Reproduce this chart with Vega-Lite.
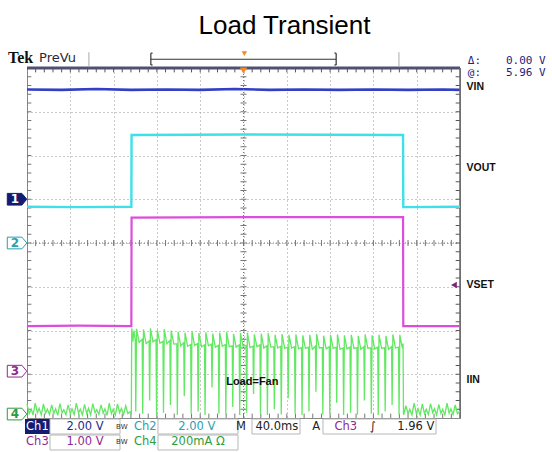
{
  "$schema": "https://vega.github.io/schema/vega-lite/v6.json",
  "width": 433,
  "height": 350,
  "autosize": {"type": "none"},
  "padding": {"left": 27, "top": 68, "right": 92, "bottom": 34},
  "background": "#ffffff",
  "title": {"text": "Load Transient", "font": "Liberation Sans", "fontSize": 26, "fontWeight": "normal", "color": "#000000", "anchor": "middle", "dx": 41, "offset": 11},
  "config": {
    "view": {"stroke": "#8a8a8a", "strokeWidth": 1},
    "axis": {"labels": false, "ticks": false, "domain": false, "grid": true, "gridColor": "#7a7a7a", "gridDash": [1, 3], "gridOpacity": 0.8}
  },
  "resolve": {"scale": {"color": "independent", "fill": "independent", "stroke": "independent"}},
  "datasets": {
    "mx": [0.2,0.4,0.6,0.8,1.0,1.2,1.4,1.6,1.8,2.0,2.2,2.4,2.6,2.8,3.0,3.2,3.4,3.6,3.8,4.0,4.2,4.4,4.6,4.8,5.0,5.2,5.4,5.6,5.8,6.0,6.2,6.4,6.6,6.8,7.0,7.2,7.4,7.6,7.8,8.0,8.2,8.4,8.6,8.8,9.0,9.2,9.4,9.6,9.8],
    "my": [-3.8,-3.6,-3.4,-3.2,-3.0,-2.8,-2.6,-2.4,-2.2,-2.0,-1.8,-1.6,-1.4,-1.2,-1.0,-0.8,-0.6,-0.4,-0.2,0.0,0.2,0.4,0.6,0.8,1.0,1.2,1.4,1.6,1.8,2.0,2.2,2.4,2.6,2.8,3.0,3.2,3.4,3.6,3.8],
    "vin": [{"x":0,"y":3.51},{"x":0.8,"y":3.5},{"x":1.6,"y":3.52},{"x":2.4,"y":3.5},{"x":3.2,"y":3.51},{"x":4.0,"y":3.5},{"x":4.8,"y":3.52},{"x":5.6,"y":3.5},{"x":6.4,"y":3.51},{"x":7.2,"y":3.5},{"x":8.0,"y":3.51},{"x":8.8,"y":3.5},{"x":9.6,"y":3.51},{"x":10,"y":3.5}],
    "vout": [{"x":0,"y":0.83},{"x":1.2,"y":0.82},{"x":2.41,"y":0.83},{"x":2.415,"y":2.47},{"x":5.0,"y":2.48},{"x":8.685,"y":2.47},{"x":8.69,"y":0.82},{"x":10,"y":0.83}],
    "vset": [{"x":0,"y":-1.9},{"x":1.2,"y":-1.89},{"x":2.41,"y":-1.9},{"x":2.415,"y":0.58},{"x":5.0,"y":0.59},{"x":8.685,"y":0.59},{"x":8.69,"y":-1.9},{"x":10,"y":-1.9}],
    "iin": [
      {"x":0.00,"y":-3.68},{"x":0.05,"y":-3.90},{"x":0.10,"y":-3.80},{"x":0.14,"y":-3.93},{"x":0.19,"y":-3.66},{"x":0.24,"y":-3.88},{"x":0.28,"y":-3.78},{"x":0.33,"y":-3.93},{"x":0.38,"y":-3.68},{"x":0.43,"y":-3.89},{"x":0.47,"y":-3.80},{"x":0.52,"y":-3.92},{"x":0.57,"y":-3.70},{"x":0.62,"y":-3.90},{"x":0.66,"y":-3.79},{"x":0.71,"y":-3.94},{"x":0.76,"y":-3.67},{"x":0.81,"y":-3.88},{"x":0.85,"y":-3.81},{"x":0.90,"y":-3.93},{"x":0.95,"y":-3.70},{"x":1.00,"y":-3.90},{"x":1.04,"y":-3.79},{"x":1.09,"y":-3.92},{"x":1.14,"y":-3.66},{"x":1.19,"y":-3.89},{"x":1.23,"y":-3.80},{"x":1.28,"y":-3.93},{"x":1.33,"y":-3.69},{"x":1.38,"y":-3.90},{"x":1.42,"y":-3.78},{"x":1.47,"y":-3.93},{"x":1.52,"y":-3.67},{"x":1.57,"y":-3.88},{"x":1.61,"y":-3.81},{"x":1.66,"y":-3.92},{"x":1.71,"y":-3.70},{"x":1.76,"y":-3.89},{"x":1.80,"y":-3.79},{"x":1.85,"y":-3.94},{"x":1.90,"y":-3.66},{"x":1.95,"y":-3.90},{"x":1.99,"y":-3.80},{"x":2.04,"y":-3.93},{"x":2.09,"y":-3.68},{"x":2.14,"y":-3.88},{"x":2.18,"y":-3.78},{"x":2.23,"y":-3.92},{"x":2.28,"y":-3.72},{"x":2.33,"y":-3.90},{"x":2.38,"y":-3.86},{"x":2.41,"y":-3.92},
      {"x":2.415,"y":-2.6},{"x":2.42,"y":-1.95},{"x":2.445,"y":-2.25},{"x":2.47,"y":-2.0},
      {"x":2.5,"y":-2.22},{"x":2.512,"y":-3.85},{"x":2.53,"y":-1.96},{"x":2.59,"y":-2.27},
      {"x":2.66,"y":-2.2},{"x":2.672,"y":-3.9},{"x":2.69,"y":-1.98},{"x":2.75,"y":-2.3},
      {"x":2.82,"y":-2.24},{"x":2.832,"y":-3.6},{"x":2.85,"y":-1.95},{"x":2.91,"y":-2.26},
      {"x":2.98,"y":-2.21},{"x":2.992,"y":-3.92},{"x":3.01,"y":-1.99},{"x":3.07,"y":-2.29},
      {"x":3.14,"y":-2.25},{"x":3.152,"y":-3.88},{"x":3.17,"y":-1.97},{"x":3.23,"y":-2.3},
      {"x":3.3,"y":-2.23},{"x":3.312,"y":-3.7},{"x":3.33,"y":-2.0},{"x":3.39,"y":-2.31},
      {"x":3.46,"y":-2.3},{"x":3.472,"y":-3.93},{"x":3.49,"y":-2.03},{"x":3.55,"y":-2.35},
      {"x":3.62,"y":-2.28},{"x":3.632,"y":-3.5},{"x":3.65,"y":-2.05},{"x":3.71,"y":-2.36},
      {"x":3.78,"y":-2.32},{"x":3.792,"y":-3.9},{"x":3.81,"y":-2.02},{"x":3.87,"y":-2.34},
      {"x":3.94,"y":-2.3},{"x":3.952,"y":-3.85},{"x":3.97,"y":-2.06},{"x":4.03,"y":-2.37},
      {"x":4.1,"y":-2.33},{"x":4.112,"y":-3.93},{"x":4.13,"y":-2.04},{"x":4.19,"y":-2.35},
      {"x":4.26,"y":-2.31},{"x":4.272,"y":-3.3},{"x":4.29,"y":-2.07},{"x":4.35,"y":-2.38},
      {"x":4.42,"y":-2.34},{"x":4.432,"y":-3.9},{"x":4.45,"y":-2.05},{"x":4.51,"y":-2.36},
      {"x":4.58,"y":-2.32},{"x":4.592,"y":-3.92},{"x":4.61,"y":-2.03},{"x":4.67,"y":-2.37},
      {"x":4.74,"y":-2.35},{"x":4.752,"y":-3.75},{"x":4.77,"y":-2.08},{"x":4.83,"y":-2.38},
      {"x":4.9,"y":-2.33},{"x":4.912,"y":-3.93},{"x":4.93,"y":-2.06},{"x":4.99,"y":-2.36},
      {"x":5.06,"y":-2.34},{"x":5.072,"y":-3.88},{"x":5.09,"y":-2.05},{"x":5.15,"y":-2.39},
      {"x":5.22,"y":-2.36},{"x":5.232,"y":-3.45},{"x":5.25,"y":-2.09},{"x":5.31,"y":-2.37},
      {"x":5.38,"y":-2.33},{"x":5.392,"y":-3.9},{"x":5.41,"y":-2.07},{"x":5.47,"y":-2.4},
      {"x":5.54,"y":-2.35},{"x":5.552,"y":-3.93},{"x":5.57,"y":-2.06},{"x":5.63,"y":-2.38},
      {"x":5.7,"y":-2.37},{"x":5.712,"y":-3.8},{"x":5.73,"y":-2.1},{"x":5.79,"y":-2.4},
      {"x":5.86,"y":-2.36},{"x":5.872,"y":-3.92},{"x":5.89,"y":-2.08},{"x":5.95,"y":-2.41},
      {"x":6.02,"y":-2.38},{"x":6.032,"y":-3.55},{"x":6.05,"y":-2.1},{"x":6.11,"y":-2.4},
      {"x":6.18,"y":-2.37},{"x":6.192,"y":-3.9},{"x":6.21,"y":-2.09},{"x":6.27,"y":-2.42},
      {"x":6.34,"y":-2.39},{"x":6.352,"y":-3.93},{"x":6.37,"y":-2.11},{"x":6.43,"y":-2.41},
      {"x":6.5,"y":-2.38},{"x":6.512,"y":-3.85},{"x":6.53,"y":-2.1},{"x":6.59,"y":-2.43},
      {"x":6.66,"y":-2.36},{"x":6.672,"y":-3.4},{"x":6.69,"y":-2.08},{"x":6.75,"y":-2.4},
      {"x":6.82,"y":-2.39},{"x":6.832,"y":-3.92},{"x":6.85,"y":-2.12},{"x":6.91,"y":-2.42},
      {"x":6.98,"y":-2.37},{"x":6.992,"y":-3.9},{"x":7.01,"y":-2.1},{"x":7.07,"y":-2.41},
      {"x":7.14,"y":-2.38},{"x":7.152,"y":-3.65},{"x":7.17,"y":-2.09},{"x":7.23,"y":-2.43},
      {"x":7.3,"y":-2.4},{"x":7.312,"y":-3.93},{"x":7.33,"y":-2.11},{"x":7.39,"y":-2.42},
      {"x":7.46,"y":-2.38},{"x":7.472,"y":-3.88},{"x":7.49,"y":-2.1},{"x":7.55,"y":-2.41},
      {"x":7.62,"y":-2.39},{"x":7.632,"y":-3.92},{"x":7.65,"y":-2.12},{"x":7.71,"y":-2.43},
      {"x":7.78,"y":-2.37},{"x":7.792,"y":-3.6},{"x":7.81,"y":-2.09},{"x":7.87,"y":-2.4},
      {"x":7.94,"y":-2.4},{"x":7.952,"y":-3.9},{"x":7.97,"y":-2.11},{"x":8.03,"y":-2.42},
      {"x":8.1,"y":-2.38},{"x":8.112,"y":-3.93},{"x":8.13,"y":-2.1},{"x":8.19,"y":-2.41},
      {"x":8.26,"y":-2.39},{"x":8.272,"y":-3.85},{"x":8.29,"y":-2.12},{"x":8.35,"y":-2.43},
      {"x":8.42,"y":-2.37},{"x":8.432,"y":-3.7},{"x":8.45,"y":-2.09},{"x":8.51,"y":-2.4},
      {"x":8.58,"y":-2.38},{"x":8.592,"y":-3.92},{"x":8.61,"y":-2.1},{"x":8.67,"y":-2.41},
      {"x":8.685,"y":-2.3},{"x":8.695,"y":-3.9},
      {"x":8.70,"y":-3.93},{"x":8.75,"y":-3.72},{"x":8.80,"y":-3.90},{"x":8.84,"y":-3.80},{"x":8.89,"y":-3.93},{"x":8.94,"y":-3.66},{"x":8.99,"y":-3.89},{"x":9.03,"y":-3.79},{"x":9.08,"y":-3.93},{"x":9.13,"y":-3.68},{"x":9.18,"y":-3.90},{"x":9.22,"y":-3.80},{"x":9.27,"y":-3.92},{"x":9.32,"y":-3.67},{"x":9.37,"y":-3.88},{"x":9.41,"y":-3.79},{"x":9.46,"y":-3.93},{"x":9.51,"y":-3.69},{"x":9.56,"y":-3.90},{"x":9.60,"y":-3.80},{"x":9.65,"y":-3.93},{"x":9.70,"y":-3.66},{"x":9.75,"y":-3.89},{"x":9.79,"y":-3.79},{"x":9.84,"y":-3.92},{"x":9.89,"y":-3.70},{"x":9.94,"y":-3.90},{"x":10.0,"y":-3.84}
    ],
    "markers": [{"n":"1","y":1.0},{"n":"2","y":0.0},{"n":"3","y":-2.93},{"n":"4","y":-3.91}],
    "labels": [{"t":"VIN","y":3.56},{"t":"VOUT","y":1.71},{"t":"VSET","y":-0.96},{"t":"IIN","y":-3.12}],
    "topright": [{"t":"Δ:","x":10.18,"y":4.17},{"t":"0.00 V","x":11.06,"y":4.17},{"t":"@:","x":10.18,"y":3.89},{"t":"5.96 V","x":11.06,"y":3.89}],
    "bar": [{"x":2.86,"x2":7.14,"y":4.2,"y2":4.2},{"x":2.86,"x2":2.86,"y":4.07,"y2":4.34},{"x":7.14,"x2":7.14,"y":4.07,"y2":4.34},{"x":2.86,"x2":2.9,"y":4.34,"y2":4.34},{"x":2.86,"x2":2.9,"y":4.07,"y2":4.07},{"x":7.1,"x2":7.14,"y":4.34,"y2":4.34},{"x":7.1,"x2":7.14,"y":4.07,"y2":4.07}],
    "seps": [{"x":1.43},{"x":8.59}],
    "boxes": [{"b":"A1","x":0.531,"x2":2.148,"y":-4.023,"y2":-4.366},{"b":"A2","x":0.531,"x2":2.148,"y":-4.389,"y2":-4.731},{"b":"B1","x":3.025,"x2":4.873,"y":-4.023,"y2":-4.366},{"b":"B2","x":3.025,"x2":4.873,"y":-4.389,"y2":-4.731},{"b":"M","x":5.196,"x2":6.305,"y":-4.023,"y2":-4.366},{"b":"T","x":6.836,"x2":9.446,"y":-4.023,"y2":-4.366}],
    "readout": [
      {"t":"Ch1","x":0.24,"y":-4.2,"c":"inv"},
      {"t":"2.00 V","x":1.34,"y":-4.2,"c":"c1"},
      {"t":"Ch2","x":2.73,"y":-4.2,"c":"c2"},
      {"t":"2.00 V","x":3.92,"y":-4.2,"c":"c2"},
      {"t":"M","x":4.94,"y":-4.2,"c":"k"},
      {"t":"40.0ms","x":5.77,"y":-4.2,"c":"k"},
      {"t":"A","x":6.68,"y":-4.2,"c":"k"},
      {"t":"Ch3","x":7.36,"y":-4.2,"c":"c3"},
      {"t":"∫","x":7.99,"y":-4.2,"c":"k"},
      {"t":"1.96 V","x":8.98,"y":-4.2,"c":"k"},
      {"t":"Ch3","x":0.24,"y":-4.55,"c":"c3"},
      {"t":"1.00 V","x":1.34,"y":-4.55,"c":"c3"},
      {"t":"Ch4","x":2.73,"y":-4.55,"c":"c4"},
      {"t":"200mA Ω","x":3.95,"y":-4.55,"c":"c4"}
    ],
    "bw": [{"x":2.19,"y":-4.2},{"x":2.19,"y":-4.55}]
  },
  "layer": [
    {
      "data": {"name": "vin"},
      "mark": {"type": "line", "color": "#3340c4", "strokeWidth": 2.6},
      "encoding": {
        "x": {"field": "x", "type": "quantitative", "scale": {"domain": [0, 10], "nice": false, "zero": false}, "axis": {"values": [0,1,2,3,4,5,6,7,8,9,10], "title": null}},
        "y": {"field": "y", "type": "quantitative", "scale": {"domain": [-4, 4], "nice": false, "zero": false}, "axis": {"values": [-4,-3,-2,-1,0,1,2,3,4], "title": null}}
      }
    },
    {
      "data": {"values": [{}]},
      "mark": {"type": "rule", "color": "#777777", "strokeDash": [1, 2]},
      "encoding": {"x": {"datum": 5}}
    },
    {
      "data": {"values": [{}]},
      "mark": {"type": "rule", "color": "#777777", "strokeDash": [1, 2]},
      "encoding": {"y": {"datum": 0}}
    },
    {
      "data": {"name": "mx"},
      "mark": {"type": "rule", "color": "#777777"},
      "encoding": {"x": {"field": "data", "type": "quantitative"}, "y": {"datum": -0.07}, "y2": {"datum": 0.07}}
    },
    {
      "data": {"name": "mx"},
      "mark": {"type": "rule", "color": "#777777"},
      "encoding": {"x": {"field": "data", "type": "quantitative"}, "y": {"datum": -4}, "y2": {"datum": -3.9}}
    },
    {
      "data": {"name": "mx"},
      "mark": {"type": "rule", "color": "#555555"},
      "encoding": {"x": {"field": "data", "type": "quantitative"}, "y": {"datum": 4}, "y2": {"datum": 3.9}}
    },
    {
      "data": {"name": "my"},
      "mark": {"type": "rule", "color": "#777777"},
      "encoding": {"y": {"field": "data", "type": "quantitative"}, "x": {"datum": 4.93}, "x2": {"datum": 5.07}}
    },
    {
      "data": {"name": "my"},
      "mark": {"type": "rule", "color": "#777777"},
      "encoding": {"y": {"field": "data", "type": "quantitative"}, "x": {"datum": 0}, "x2": {"datum": 0.1}}
    },
    {
      "data": {"name": "my"},
      "mark": {"type": "rule", "color": "#555555"},
      "encoding": {"y": {"field": "data", "type": "quantitative"}, "x": {"datum": 9.9}, "x2": {"datum": 10}}
    },
    {
      "data": {"values": [{}]},
      "mark": {"type": "rule", "color": "#4e5270", "strokeWidth": 3},
      "encoding": {"y": {"datum": 4}}
    },
    {
      "data": {"values": [{}]},
      "mark": {"type": "rule", "color": "#666666", "strokeWidth": 1.5},
      "encoding": {"x": {"datum": 10}}
    },
    {
      "data": {"name": "vout"},
      "mark": {"type": "line", "color": "#3ee0ea", "strokeWidth": 2.4},
      "encoding": {"x": {"field": "x", "type": "quantitative"}, "y": {"field": "y", "type": "quantitative"}}
    },
    {
      "data": {"name": "vset"},
      "mark": {"type": "line", "color": "#dc4ddc", "strokeWidth": 2.2},
      "encoding": {"x": {"field": "x", "type": "quantitative"}, "y": {"field": "y", "type": "quantitative"}}
    },
    {
      "data": {"name": "iin"},
      "mark": {"type": "line", "color": "#62e862", "strokeWidth": 1.3},
      "encoding": {"x": {"field": "x", "type": "quantitative"}, "y": {"field": "y", "type": "quantitative"}}
    },
    {
      "data": {"values": [{"t": "Load=Fan"}]},
      "mark": {"type": "text", "font": "Liberation Sans", "fontWeight": "bold", "fontSize": 11, "align": "left", "baseline": "middle", "color": "#111111"},
      "encoding": {"x": {"datum": 4.6}, "y": {"datum": -3.18}, "text": {"field": "t"}}
    },
    {
      "data": {"name": "labels"},
      "mark": {"type": "text", "font": "Liberation Sans", "fontWeight": "bold", "fontSize": 10.5, "align": "left", "baseline": "middle", "color": "#111111"},
      "encoding": {"x": {"datum": 10.15}, "y": {"field": "y", "type": "quantitative"}, "text": {"field": "t"}}
    },
    {
      "data": {"values": [{}]},
      "mark": {"type": "point", "shape": "triangle-left", "filled": true, "size": 45, "color": "#7d237d", "opacity": 1},
      "encoding": {"x": {"datum": 9.86}, "y": {"datum": -0.96}}
    },
    {
      "data": {"name": "markers"},
      "mark": {"type": "point", "shape": "M-1,-0.6L0.5,-0.6L1,0L0.5,0.6L-1,0.6Z", "filled": true, "size": 380, "strokeWidth": 1, "opacity": 1},
      "encoding": {
        "x": {"datum": -0.23},
        "y": {"field": "y", "type": "quantitative"},
        "fill": {"field": "n", "type": "nominal", "scale": {"domain": ["1","2","3","4"], "range": ["#141c72","#ffffff","#ffffff","#ffffff"]}, "legend": null},
        "stroke": {"field": "n", "type": "nominal", "scale": {"domain": ["1","2","3","4"], "range": ["#141c72","#2a9fb0","#8f2a8f","#2f9a3f"]}, "legend": null}
      }
    },
    {
      "data": {"name": "markers"},
      "mark": {"type": "text", "font": "DejaVu Sans", "fontSize": 12, "fontWeight": "bold", "align": "center", "baseline": "middle"},
      "encoding": {
        "x": {"datum": -0.28},
        "y": {"field": "y", "type": "quantitative"},
        "text": {"field": "n"},
        "color": {"field": "n", "type": "nominal", "scale": {"domain": ["1","2","3","4"], "range": ["#ffffff","#2a9fb0","#8f2a8f","#2f9a3f"]}, "legend": null}
      }
    },
    {
      "data": {"values": [{"t": "Tek"}]},
      "mark": {"type": "text", "font": "Liberation Serif", "fontWeight": "bold", "fontSize": 16, "align": "left", "baseline": "middle", "color": "#111111"},
      "encoding": {"x": {"datum": -0.44}, "y": {"datum": 4.23}, "text": {"field": "t"}}
    },
    {
      "data": {"values": [{"t": "PreVu"}]},
      "mark": {"type": "text", "font": "DejaVu Sans", "fontSize": 13, "align": "left", "baseline": "middle", "color": "#2a2a3a"},
      "encoding": {"x": {"datum": 0.28}, "y": {"datum": 4.23}, "text": {"field": "t"}}
    },
    {
      "data": {"name": "seps"},
      "mark": {"type": "rule", "color": "#aaaaaa"},
      "encoding": {"x": {"field": "x", "type": "quantitative"}, "y": {"datum": 4.02}, "y2": {"datum": 4.36}}
    },
    {
      "data": {"name": "bar"},
      "mark": {"type": "rule", "color": "#333333", "strokeWidth": 1.2},
      "encoding": {"x": {"field": "x", "type": "quantitative"}, "x2": {"field": "x2"}, "y": {"field": "y", "type": "quantitative"}, "y2": {"field": "y2"}}
    },
    {
      "data": {"values": [{"p": "bar"}]},
      "mark": {"type": "point", "shape": "triangle-down", "filled": true, "size": 30, "color": "#f08a24", "opacity": 1},
      "encoding": {"x": {"datum": 5.02}, "y": {"datum": 4.33}}
    },
    {
      "data": {"values": [{"p": "trig"}]},
      "mark": {"type": "point", "shape": "triangle-down", "filled": true, "size": 55, "color": "#f08a24", "opacity": 1},
      "encoding": {"x": {"datum": 5.0}, "y": {"datum": 3.94}}
    },
    {
      "data": {"name": "topright"},
      "mark": {"type": "text", "font": "DejaVu Sans Mono", "fontSize": 11, "align": "left", "baseline": "middle", "color": "#1a237e"},
      "encoding": {"x": {"field": "x", "type": "quantitative"}, "y": {"field": "y", "type": "quantitative"}, "text": {"field": "t"}}
    },
    {
      "data": {"values": [{}]},
      "mark": {"type": "rect", "color": "#141c72"},
      "encoding": {"x": {"datum": -0.046}, "x2": {"datum": 0.531}, "y": {"datum": -4.023}, "y2": {"datum": -4.366}}
    },
    {
      "data": {"name": "boxes"},
      "mark": {"type": "rect", "fill": "#ffffff", "fillOpacity": 0, "stroke": "#b8b8b8", "strokeWidth": 1},
      "encoding": {"x": {"field": "x", "type": "quantitative"}, "x2": {"field": "x2"}, "y": {"field": "y", "type": "quantitative"}, "y2": {"field": "y2"}}
    },
    {
      "data": {"name": "readout"},
      "mark": {"type": "text", "font": "DejaVu Sans", "fontSize": 11.5, "align": "center", "baseline": "middle"},
      "encoding": {
        "x": {"field": "x", "type": "quantitative"},
        "y": {"field": "y", "type": "quantitative"},
        "text": {"field": "t"},
        "color": {"field": "c", "type": "nominal", "scale": {"domain": ["inv","c1","c2","c3","c4","k"], "range": ["#ffffff","#1f2c8c","#2a9fb0","#8f2a8f","#2f9a3f","#222222"]}, "legend": null}
      }
    },
    {
      "data": {"name": "bw"},
      "mark": {"type": "text", "font": "DejaVu Sans", "fontSize": 7, "align": "center", "baseline": "middle", "color": "#333333", "text": "BW"},
      "encoding": {"x": {"field": "x", "type": "quantitative"}, "y": {"field": "y", "type": "quantitative"}}
    }
  ]
}
